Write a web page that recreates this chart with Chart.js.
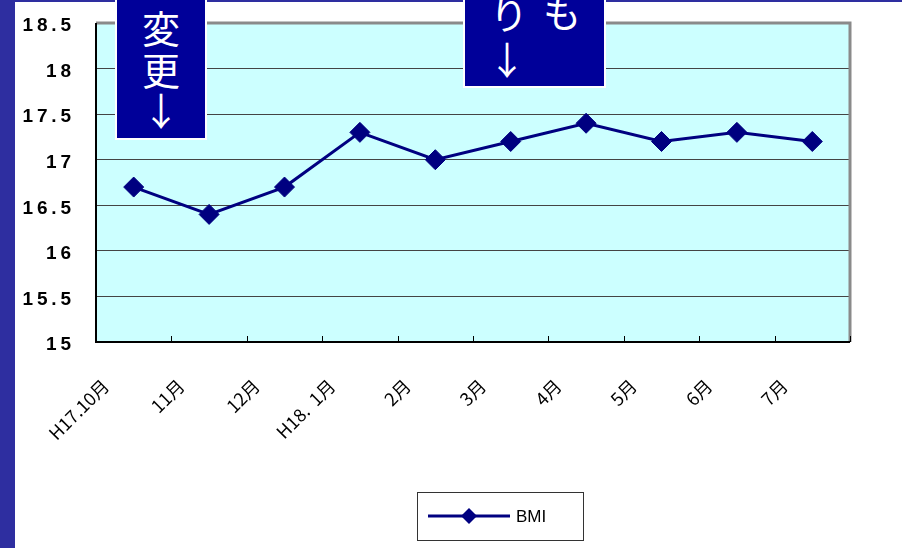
<!DOCTYPE html>
<html>
<head>
<meta charset="utf-8">
<script src="https://cdn.jsdelivr.net/npm/chart.js@4"></script>
<style>
    body { margin: 0; width: 902px; height: 548px; overflow: hidden; position: relative; background: #2e2ea0; }
    #panel { position: absolute; left: 15px; top: 2px; width: 887px; height: 546px; background: #fff; }
    .note { position: absolute; background: #000099; border: 2px solid #fff; color: #fff;
            font-family: "Noto Sans CJK JP", sans-serif; font-size: 38px; line-height: 41px; }
    .note span { position: absolute; width: 41px; text-align: center; }
</style>
</head>
<body>
<div id="panel"><canvas id="myChart" width="887" height="546"></canvas></div>

<div class="note" style="left:115px; top:-10px; width:88px; height:146px;">
    <span style="left:23.5px; top:14px;">変</span>
    <span style="left:23.5px; top:56px;">更</span>
    <span style="left:23.5px; top:96px;">↓</span>
</div>
<div class="note" style="left:463px; top:-10px; width:139px; height:94px;">
    <span style="left:23.5px; top:0px;">り</span>
    <span style="left:76.5px; top:-2px;">も</span>
    <span style="left:21.5px; top:45px;">↓</span>
</div>

<script>
// data
const months = ['H17.10月', '11月', '12月', 'H18.  1月', '2月', '3月', '4月', '5月', '6月', '7月'];
const bmiValues = [16.7, 16.4, 16.7, 17.3, 17.0, 17.2, 17.4, 17.2, 17.3, 17.2];
const yMin = 15;
const yMax = 18.5;
const yStep = 0.5;
const seriesName = 'BMI';

const navy = '#000080';

// cyan plot background, gray frame, inside tick marks, boxed legend
const excelLook = {
    id: 'excelLook',
    beforeDraw(chart) {
        const { ctx, chartArea: a } = chart;
        ctx.save();
        ctx.fillStyle = '#ccffff';
        ctx.fillRect(a.left, a.top, a.right - a.left, a.bottom - a.top);
        ctx.restore();
    },
    afterDatasetsDraw(chart) {
        const { ctx, chartArea: a, scales } = chart;
        ctx.save();
        // gray frame top / right
        ctx.strokeStyle = '#8a8a8a';
        ctx.lineWidth = 3;
        ctx.beginPath();
        ctx.moveTo(a.left, a.top);
        ctx.lineTo(a.right, a.top);
        ctx.lineTo(a.right, a.bottom);
        ctx.stroke();
        // axes
        ctx.strokeStyle = '#000';
        ctx.lineWidth = 2;
        ctx.beginPath();
        ctx.moveTo(a.left, a.top);
        ctx.lineTo(a.left, a.bottom);
        ctx.lineTo(a.right, a.bottom);
        ctx.stroke();
        // small tick marks between categories, pointing up into the plot
        const x = scales.x;
        ctx.lineWidth = 1;
        ctx.beginPath();
        for (let i = 0; i <= months.length; i++) {
            const px = Math.round(x.getPixelForValue(i - 0.5)) + 0.5;
            ctx.moveTo(px, a.bottom);
            ctx.lineTo(px, a.bottom - 6);
        }
        ctx.stroke();
        ctx.restore();
    },
    afterDraw(chart) {
        const { ctx } = chart;
        const ds = chart.data.datasets[0];
        const bx = 402, by = 490, bw = 166, bh = 48;
        ctx.save();
        ctx.fillStyle = '#fff';
        ctx.fillRect(bx, by, bw, bh);
        ctx.strokeStyle = '#333';
        ctx.lineWidth = 1;
        ctx.strokeRect(bx + 0.5, by + 0.5, bw, bh);
        const cy = by + 24;
        ctx.strokeStyle = ds.borderColor;
        ctx.lineWidth = 3;
        ctx.beginPath();
        ctx.moveTo(bx + 11, cy);
        ctx.lineTo(bx + 93, cy);
        ctx.stroke();
        ctx.fillStyle = ds.borderColor;
        ctx.beginPath();
        const mx = bx + 52, r = 8;
        ctx.moveTo(mx - r, cy);
        ctx.lineTo(mx, cy - r);
        ctx.lineTo(mx + r, cy);
        ctx.lineTo(mx, cy + r);
        ctx.closePath();
        ctx.fill();
        ctx.fillStyle = '#000';
        ctx.font = '17px "Liberation Sans", Arial, sans-serif';
        ctx.textBaseline = 'middle';
        ctx.fillText(ds.label, bx + 99, cy + 1);
        ctx.restore();
    }
};

const ctx = document.getElementById('myChart').getContext('2d');
const myChart = new Chart(ctx, {
    type: 'line',
    data: {
        labels: months,
        datasets: [{
            label: seriesName,
            data: bmiValues,
            borderColor: navy,
            backgroundColor: navy,
            borderWidth: 3,
            pointStyle: 'rectRot',
            pointRadius: 10,
            pointBackgroundColor: navy,
            pointBorderColor: navy,
            pointBorderWidth: 1,
            tension: 0
        }]
    },
    options: {
        responsive: false,
        animation: false,
        layout: { autoPadding: false, padding: { top: 21, right: 52, left: 0, bottom: 0 } },
        plugins: {
            legend: { display: false },
            tooltip: { enabled: false }
        },
        scales: {
            x: {
                offset: true,
                grid: { display: false, drawTicks: false },
                border: { display: false },
                afterFit: (scale) => { scale.height = 206; },
                ticks: {
                    autoSkip: false,
                    minRotation: 45,
                    maxRotation: 45,
                    labelOffset: -28,
                    padding: 33,
                    color: '#000',
                    font: { family: '"Noto Sans CJK JP", sans-serif', size: 18 }
                }
            },
            y: {
                min: yMin,
                max: yMax,
                grid: { color: '#444', lineWidth: 1, drawTicks: false },
                border: { display: false },
                afterFit: (scale) => {
                    scale.width = 81;
                    scale.paddingTop = 0;
                    scale.paddingBottom = 0;
                },
                ticks: {
                    stepSize: yStep,
                    padding: 25,
                    labelOffset: 3,
                    color: '#000',
                    font: { family: '"Liberation Sans", Arial, sans-serif', size: 19, weight: 'bold' },
                    callback: (v) => String(v).split('').join('\u2009')
                }
            }
        }
    },
    plugins: [excelLook]
});
</script>
</body>
</html>
